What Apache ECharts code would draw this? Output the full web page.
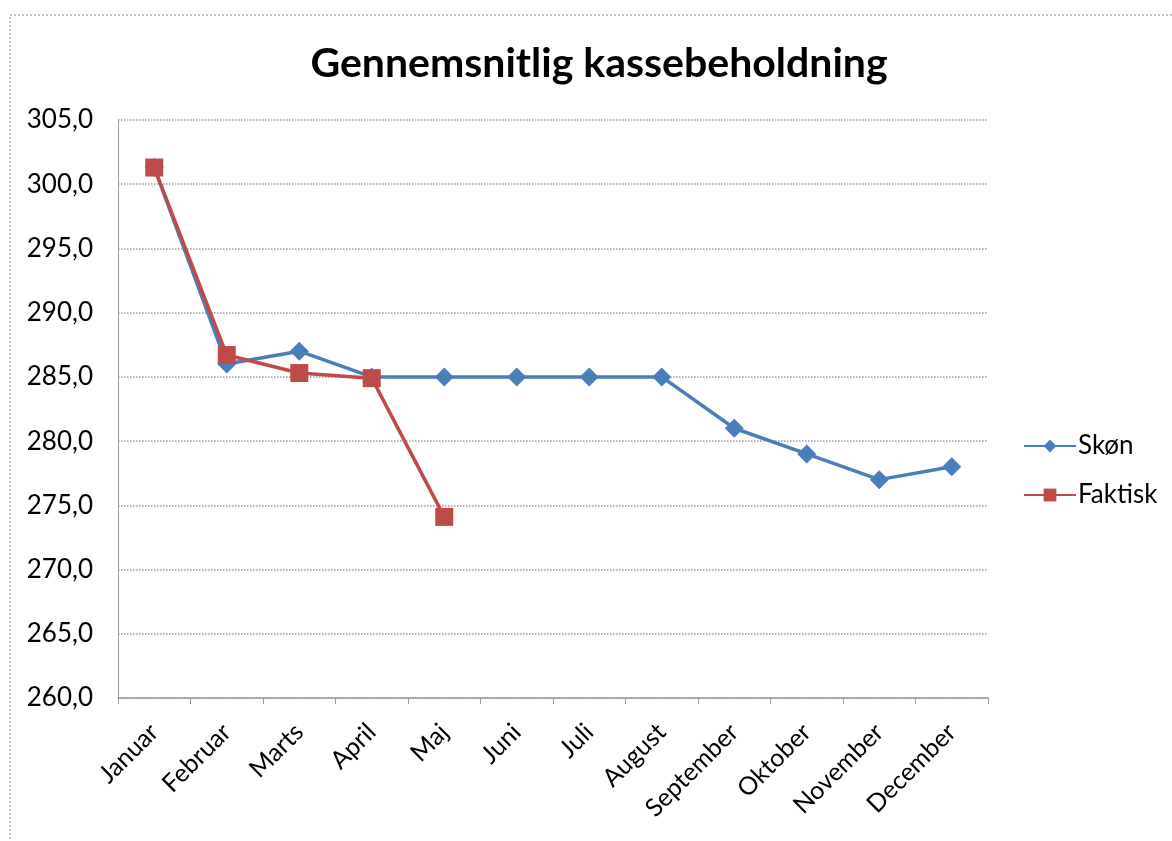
<html>
<head>
    <meta charset="utf-8">
    <title>Gennemsnitlig kassebeholdning</title>
    <script src="https://cdn.jsdelivr.net/npm/echarts@6/dist/echarts.min.js"></script>
</head>
<body style="margin:0;background:#fff;">
<div id="main" style="width:1172px;height:841px;"></div>
<script type="text/javascript">
var months = ['Januar', 'Februar', 'Marts', 'April', 'Maj', 'Juni', 'Juli', 'August', 'September', 'Oktober', 'November', 'December'];
var skon = [301.3, 286.0, 287.0, 285.0, 285.0, 285.0, 285.0, 285.0, 281.0, 279.0, 277.0, 278.0];
var faktisk = [301.3, 286.7, 285.3, 284.9, 274.1];

var myChart = echarts.init(document.getElementById('main'));
var font = 'Lato, "Open Sans", sans-serif';

var option = {
    animation: false,
    color: ['#4a7ebb', '#be4b48'],
    title: {
        text: 'Gennemsnitlig kassebeholdning',
        left: 594,
        textAlign: 'center',
        top: 38,
        textStyle: { fontFamily: font, fontSize: 41, fontWeight: 'bold', color: '#000' }
    },
    graphic: [{
        type: 'rect',
        shape: { x: 10, y: 15, width: 1170, height: 840 },
        style: { fill: 'none', stroke: '#888', lineWidth: 1, lineDash: [2, 2] }
    }],
    legend: {
        orient: 'vertical',
        left: 1018,
        top: 428,
        itemGap: 23,
        itemWidth: 52,
        itemHeight: 16,
        textStyle: { fontFamily: font, fontSize: 26, color: '#000', padding: [0, 0, 0, -3] },
        data: ['Skøn', 'Faktisk']
    },
    grid: { left: 118, right: 184, top: 120, bottom: 143 },
    xAxis: {
        type: 'category',
        data: months,
        boundaryGap: true,
        axisLine: { lineStyle: { color: '#999', width: 1.5 } },
        axisTick: { show: true, length: 6, lineStyle: { color: '#999' } },
        axisLabel: {
            rotate: 45,
            margin: 30,
            fontFamily: font,
            fontSize: 25,
            color: '#000'
        }
    },
    yAxis: {
        type: 'value',
        min: 260,
        max: 305,
        interval: 5,
        axisLine: { show: true, lineStyle: { color: '#999' } },
        axisTick: { show: false },
        axisLabel: {
            margin: 25,
            fontFamily: font,
            fontSize: 26,
            color: '#000',
            formatter: function (v) { return v.toFixed(1).replace('.', ','); }
        },
        splitLine: { lineStyle: { color: '#999', type: 'dotted', width: 1.5 } }
    },
    series: [
        {
            name: 'Skøn',
            type: 'line',
            data: skon,
            symbol: 'diamond',
            symbolSize: 19,
            lineStyle: { width: 3.5 },
            z: 2
        },
        {
            name: 'Faktisk',
            type: 'line',
            data: faktisk,
            symbol: 'rect',
            symbolSize: 18,
            lineStyle: { width: 3.5 },
            z: 3
        }
    ]
};
myChart.setOption(option);
</script>
</body>
</html>
